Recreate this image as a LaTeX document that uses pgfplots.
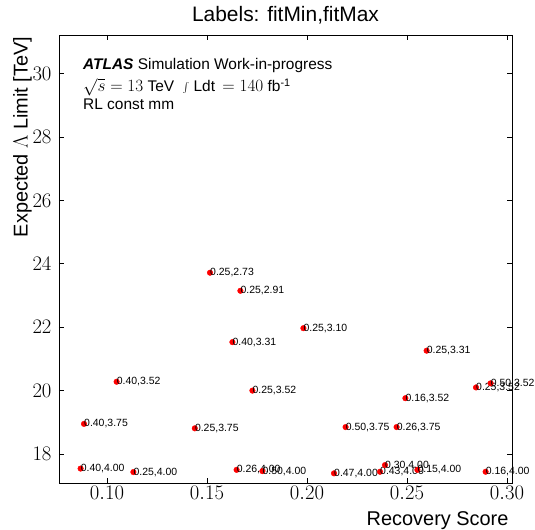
\documentclass[border=0pt]{standalone}
\usepackage{fontspec}
\setmainfont{Liberation Sans}
\usepackage{pgfplots}
\pgfplotsset{compat=1.18}
\usetikzlibrary{calc}

\pgfplotstableread{
x      y      lab
0.0868 17.54  0.40,4.00
0.1132 17.43  0.25,4.00
0.0885 18.95  0.40,3.75
0.1048 20.28  0.40,3.52
0.1439 18.81  0.25,3.75
0.1515 23.72  0.25,2.73
0.1667 23.15  0.25,2.91
0.1627 21.53  0.40,3.31
0.1727 20.00  0.25,3.52
0.1648 17.50  0.26,4.00
0.1777 17.46  0.50,4.00
0.1982 21.97  0.25,3.10
0.2135 17.39  0.47,4.00
0.2193 18.85  0.50,3.75
0.2365 17.44  0.43,4.00
0.2390 17.65  0.30,4.00
0.2448 18.85  0.26,3.75
0.2492 19.76  0.16,3.52
0.2552 17.50  0.15,4.00
0.2598 21.26  0.25,3.31
0.2845 20.10  0.25,3.52
0.2893 17.44  0.16,4.00
0.2918 20.23  0.50,3.52
}\scan

\newcommand{\mathbig}[1]{{\fontsize{17}{20}\selectfont$#1$}}

\begin{document}
\begin{tikzpicture}
\begin{axis}[
    name=ax,
    scale only axis,
    width=453bp, height=448bp,
    xmin=0.076, xmax=0.3025,
    ymin=17.085, ymax=31.22,
    clip=false,
    axis line style={black, line width=0.9bp},
    major tick style={black, line width=0.9bp},
    major tick length=5bp,
    xtick={0.10,0.15,0.20,0.25,0.30},
    ytick={18,20,22,24,26,28,30},
    xticklabel style={/pgf/number format/.cd, fixed, fixed zerofill, precision=2},
    yticklabel style={xshift=-4bp},
    ticklabel style={font=\fontsize{19.5}{22}\selectfont},
    title={Labels: fitMin,fitMax},
    title style={at={(0.5,1)}, anchor=base, yshift=8bp, font=\fontsize{21}{24}\selectfont},
    xlabel={Recovery Score},
    xlabel style={at={(axis description cs:1,0)}, anchor=base east, yshift=-42bp, font=\fontsize{20}{23}\selectfont},
    ylabel={Expected $\Lambda$ Limit [TeV]},
    ylabel style={at={(axis description cs:-0.0695,1.004)}, anchor=base east, font=\fontsize{20}{23}\selectfont},
]
\addplot[only marks, mark=*, mark size=2.8bp, color=red,
    nodes near coords, point meta=explicit symbolic,
    every node near coord/.append style={anchor=west, inner sep=0pt, black, font=\fontsize{10.5}{12}\selectfont}]
    table[x=x, y=y, meta=lab] {\scan};
\node[anchor=base west, inner sep=0pt, font=\fontsize{15.5}{18}\selectfont] at (axis description cs:0.053,0.924)
    {\textbf{\textit{ATLAS}} Simulation Work-in-progress};
\node[anchor=base west, inner sep=0pt, font=\fontsize{15.5}{18}\selectfont] at (axis description cs:0.053,0.873)
    {\mathbig{\sqrt{s}=13} TeV\ \ \mathbig{\int} Ldt\,\mathbig{{}={}140} fb\textsuperscript{-1}};
\node[anchor=base west, inner sep=0pt, font=\fontsize{15.5}{18}\selectfont] at (axis description cs:0.053,0.833)
    {RL const mm};
\end{axis}
\pgfresetboundingbox
\useasboundingbox ($(ax.south west)+(-59bp,-47bp)$) rectangle ($(ax.north east)+(23bp,35bp)$);
\end{tikzpicture}
\end{document}
